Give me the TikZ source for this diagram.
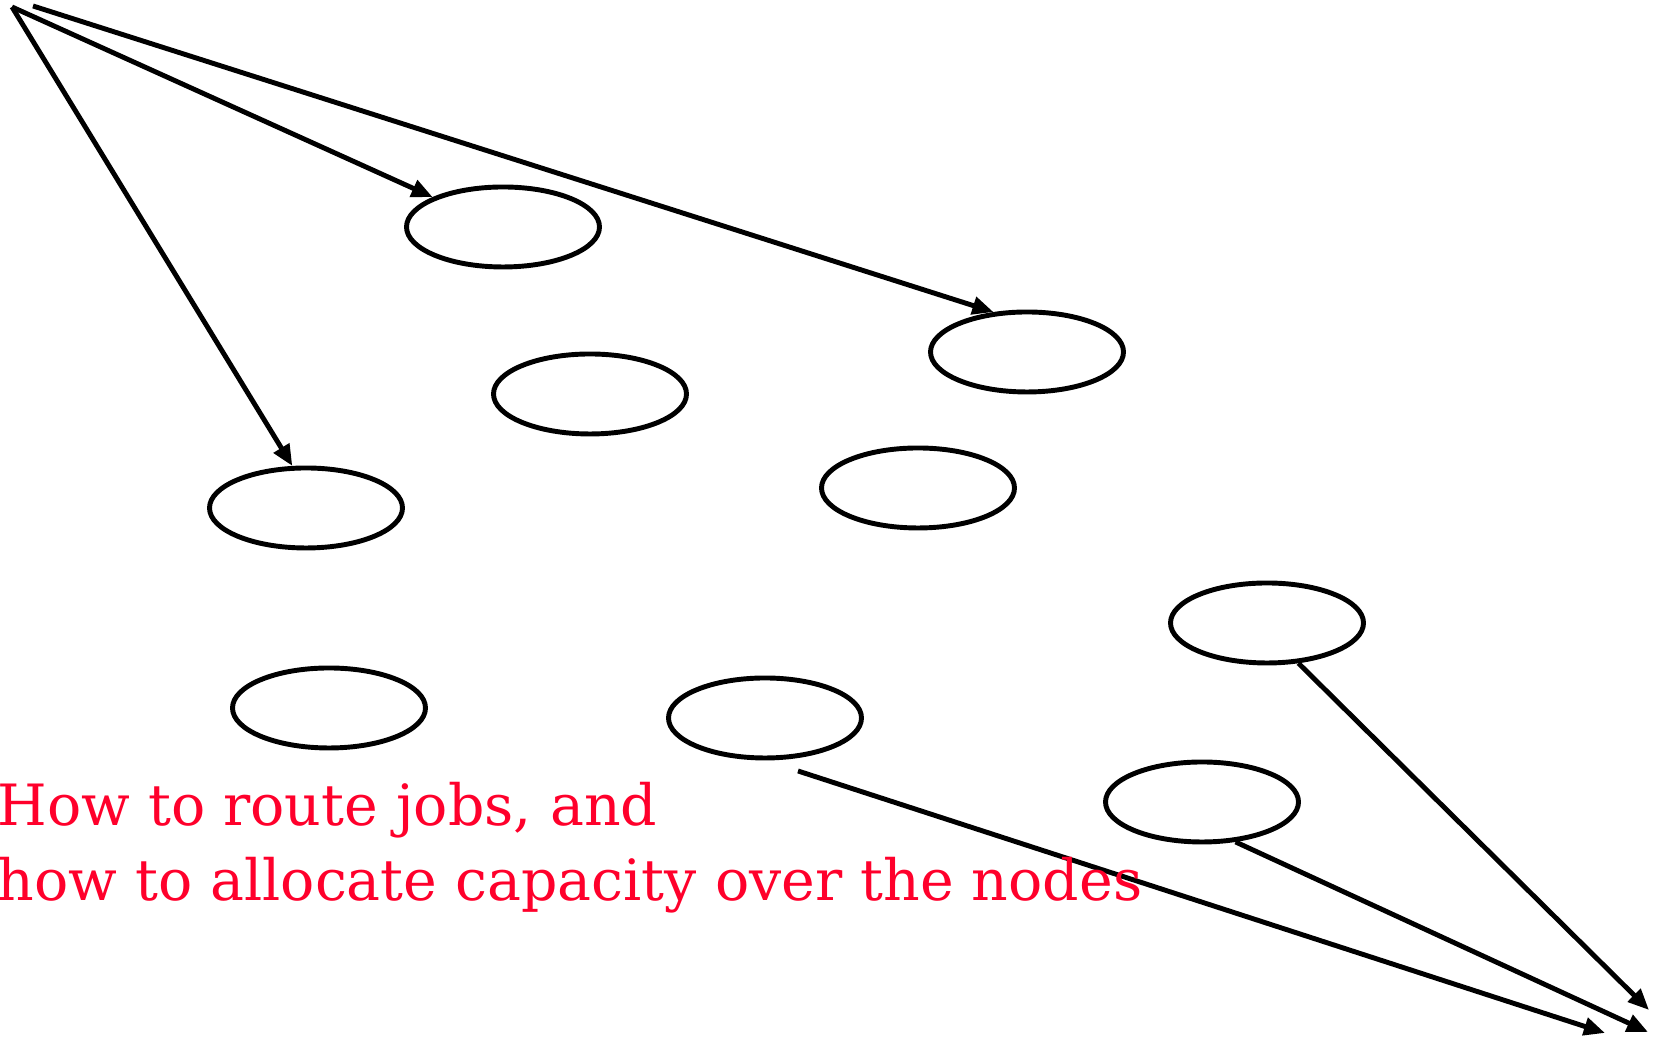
\documentclass[tikz,border=0pt]{standalone}
\usepackage{fontspec}
\setmainfont{DejaVu Serif}
\usepackage{tikz}
\usetikzlibrary{arrows.meta,shapes.geometric}
\definecolor{notered}{RGB}{255,0,43}

\begin{document}
\begin{tikzpicture}[->,>={Triangle[length=6pt,width=5pt]},line width=1.4pt,
   job/.style={draw,ellipse,minimum width=1.93cm,minimum height=0.80cm,inner sep=0pt},
   note/.style={text=notered,align=left,anchor=north west,inner sep=0pt,
     font=\fontsize{16.2}{21.3}\selectfont}]
  \useasboundingbox (0,0) rectangle (16.54,10.40);
  % the servers
  \node[job] (e1) at (5.03,8.13) {};
  \node[job] (e2) at (5.90,6.46) {};
  \node[job] (e3) at (10.27,6.88) {};
  \node[job] (e4) at (3.06,5.32) {};
  \node[job] (e5) at (9.18,5.52) {};
  \node[job] (e6) at (12.67,4.17) {};
  \node[job] (e7) at (3.29,3.32) {};
  \node[job] (e8) at (7.65,3.22) {};
  \node[job] (e9) at (12.02,2.38) {};
  % where jobs come in and leave
  \coordinate (in1) at (0.12,10.33);
  \coordinate (in2) at (0.33,10.34);
  \coordinate (s8) at (7.98,2.69);
  \coordinate (out6) at (16.49,0.30);
  \coordinate (out9) at (16.48,0.08);
  \coordinate (out8) at (16.05,0.07);
  \path
   (in1) edge (e4.108)
   (in1) edge (e1.157)
   (in2) edge (e3.130)
   (e6.-52) edge (out6)
   (e9.-50) edge (out9)
   (s8) edge (out8);
  \node[note] (q) at (-0.05,2.60) {How to route jobs, and\\how to allocate capacity over the nodes};
\end{tikzpicture}
\end{document}
